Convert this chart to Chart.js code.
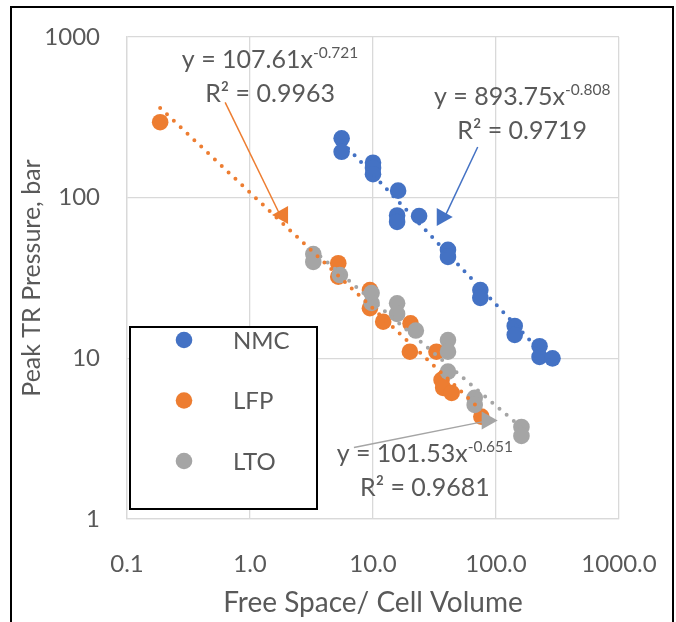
<!DOCTYPE html>
<html>
<head>
<meta charset="utf-8">
<script src="https://cdn.jsdelivr.net/npm/chart.js@4.4.1/dist/chart.umd.min.js"></script>
<style>
    html, body { margin: 0; padding: 0; background: #fff; }
    #wrap { width: 676px; height: 622px; }
</style>
</head>
<body>
<div id="wrap"><canvas id="myChart" width="676" height="622"></canvas></div>
<script>
// series
const seriesNames = ['NMC', 'LFP', 'LTO'];
const seriesColors = ['#4472C4', '#ED7D31', '#A5A5A5'];

// free space / cell volume  vs  peak TR pressure (bar)
const nmcX = [5.56, 5.56, 10.0, 10.0, 10.0, 16.0, 15.7, 15.7, 23.7, 40.7, 40.7, 74.6, 74.6, 142, 142, 226, 226, 288];
const nmcY = [234, 193, 165, 153, 140, 110.6, 77.5, 70.6, 76.9, 47.3, 42.8, 26.6, 23.8, 15.9, 14.0, 11.9, 10.2, 10.0];

const lfpX = [0.186, 5.22, 5.22, 9.44, 9.44, 12.1, 20.2, 19.95, 32.8, 36.1, 37.2, 43.6, 76.0];
const lfpY = [295, 39.1, 32.2, 26.6, 20.5, 16.9, 16.5, 11.0, 11.0, 7.34, 6.55, 6.09, 4.34];

const ltoX = [3.27, 3.27, 5.38, 9.74, 9.74, 15.7, 15.7, 22.3, 40.7, 40.7, 40.7, 67.1, 67.1, 161, 161];
const ltoY = [44.6, 39.8, 33.0, 25.5, 22.1, 22.0, 18.9, 14.9, 13.0, 11.0, 8.27, 5.67, 5.13, 3.74, 3.29];

// power-law trendlines printed on the chart: y = a * x^b
const fitA = [893.75, 107.61, 101.53];
const fitB = [-0.808, -0.721, -0.651];
const fitR2 = ['0.9719', '0.9963', '0.9681'];

// axes
const xTicks = [0.1, 1, 10, 100, 1000];
const xTickLabels = ['0.1', '1.0', '10.0', '100.0', '1000.0'];
const yTicks = [1, 10, 100, 1000];
const yTickLabels = ['1', '10', '100', '1000'];

const xs = [nmcX, lfpX, ltoX];
const ys = [nmcY, lfpY, ltoY];

const FONT = 'Lato, "Open Sans", sans-serif';
const TEXT = '#595959';
const GRID = '#d9d9d9';

// equation labels + arrows, placed in data coordinates
const notes = [
    { text: [163.2, 377.6], from: [71.0, 206.8], to: [38.3, 75.9], dir: 1 },
    { text: [1.456, 641], from: [0.628, 391.7], to: [1.755, 78.0], dir: -1 },
    { text: [26.4, 2.266], from: [7.0, 2.79], to: [88.9, 4.11], dir: 1 }
];

const datasets = [];

// trendlines, drawn on top of the markers (order 0)
seriesNames.forEach((name, i) => {
    const lo = Math.min(...xs[i]);
    const hi = Math.max(...xs[i]);
    datasets.push({
        label: name + ' fit',
        data: [
            { x: lo, y: fitA[i] * Math.pow(lo, fitB[i]) },
            { x: hi, y: fitA[i] * Math.pow(hi, fitB[i]) }
        ],
        showLine: true,
        borderColor: seriesColors[i],
        borderWidth: 4,
        borderDash: [0, 9.4],
        borderCapStyle: 'round',
        pointRadius: 0,
        fill: false,
        order: 0
    });
});

seriesNames.forEach((name, i) => {
    datasets.push({
        label: name,
        data: xs[i].map((x, k) => ({ x: x, y: ys[i][k] })),
        backgroundColor: seriesColors[i],
        borderColor: seriesColors[i],
        pointRadius: 8.3,
        pointBorderWidth: 0,
        showLine: false,
        order: 3 - i
    });
});

const overlay = {
    id: 'overlay',
    afterDraw(chart) {
        const { ctx, chartArea } = chart;
        const sx = chart.scales.x;
        const sy = chart.scales.y;
        ctx.save();

        // equation labels and arrows
        notes.forEach((n, i) => {
            const cx = sx.getPixelForValue(n.text[0]);
            const base = sy.getPixelForValue(n.text[1]);
            const main = 'y = ' + fitA[i].toFixed(2) + 'x';
            const sup = fitB[i].toFixed(3);
            ctx.fillStyle = TEXT;
            ctx.textBaseline = 'alphabetic';
            ctx.font = '25px ' + FONT;
            const wMain = ctx.measureText(main).width;
            ctx.font = '15.5px ' + FONT;
            const wSup = ctx.measureText(sup).width;
            const start = cx - (wMain + wSup) / 2;
            ctx.textAlign = 'left';
            ctx.font = '25px ' + FONT;
            ctx.fillText(main, start, base);
            ctx.font = '15.5px ' + FONT;
            ctx.fillText(sup, start + wMain, base - 10);
            ctx.font = '25px ' + FONT;
            ctx.textAlign = 'center';
            ctx.fillText('R\u00B2 = ' + fitR2[i], cx, base + 34);

            // arrow
            const x0 = sx.getPixelForValue(n.from[0]);
            const y0 = sy.getPixelForValue(n.from[1]);
            const x1 = sx.getPixelForValue(n.to[0]);
            const y1 = sy.getPixelForValue(n.to[1]);
            ctx.strokeStyle = seriesColors[i];
            ctx.lineWidth = 1.5;
            ctx.beginPath();
            ctx.moveTo(x0, y0);
            ctx.lineTo(x1, y1);
            ctx.stroke();
            ctx.fillStyle = seriesColors[i];
            ctx.beginPath();
            ctx.moveTo(x1 + n.dir * 8, y1);
            ctx.lineTo(x1 - n.dir * 8, y1 - 9);
            ctx.lineTo(x1 - n.dir * 8, y1 + 9);
            ctx.closePath();
            ctx.fill();
        });

        // legend box
        const lx = chartArea.left + 3;
        const ly = chartArea.top + 290;
        ctx.fillStyle = '#fff';
        ctx.fillRect(lx, ly, 187, 182);
        ctx.strokeStyle = '#000';
        ctx.lineWidth = 2;
        ctx.strokeRect(lx, ly, 187, 182);
        ctx.font = '24px ' + FONT;
        ctx.textAlign = 'left';
        ctx.textBaseline = 'middle';
        seriesNames.forEach((name, i) => {
            const my = ly + 13 + i * 60.5;
            ctx.fillStyle = seriesColors[i];
            ctx.beginPath();
            ctx.arc(lx + 54, my, 8.3, 0, Math.PI * 2);
            ctx.fill();
            ctx.fillStyle = TEXT;
            ctx.fillText(name, lx + 103, my + 1);
        });

        // outer frame
        ctx.strokeStyle = '#000';
        ctx.lineWidth = 2;
        ctx.strokeRect(11, 7, 662, 700);
        ctx.restore();
    }
};

const ctx = document.getElementById('myChart').getContext('2d');
const myChart = new Chart(ctx, {
    type: 'scatter',
    data: { datasets: datasets },
    options: {
        responsive: false,
        animation: false,
        devicePixelRatio: 1,
        layout: { padding: { left: 12, top: 37, right: 57, bottom: 0 } },
        plugins: {
            legend: { display: false },
            tooltip: { enabled: false }
        },
        scales: {
            x: {
                type: 'logarithmic',
                min: 0.1,
                max: 1000,
                afterBuildTicks: (s) => { s.ticks = xTicks.map(v => ({ value: v })); },
                afterFit: (s) => {
                    s.height = 103;
                    s.paddingLeft = 0;
                    s.paddingRight = 0;
                },
                ticks: {
                    callback: (v) => xTickLabels[xTicks.indexOf(v)],
                    color: TEXT,
                    font: { family: FONT, size: 24 },
                    padding: 31,
                    autoSkip: false,
                    maxRotation: 0
                },
                grid: { color: GRID, lineWidth: 1.3, drawTicks: false },
                border: { color: GRID, width: 1.3 },
                title: {
                    display: true,
                    text: 'Free Space/ Cell Volume',
                    color: TEXT,
                    font: { family: FONT, size: 28 },
                    padding: { top: 0, bottom: 2 }
                }
            },
            y: {
                type: 'logarithmic',
                min: 1,
                max: 1000,
                afterBuildTicks: (s) => { s.ticks = yTicks.map(v => ({ value: v })); },
                afterFit: (s) => {
                    s.width = 115;
                    s.paddingTop = 0;
                    s.paddingBottom = 0;
                },
                ticks: {
                    callback: (v) => yTickLabels[yTicks.indexOf(v)],
                    color: TEXT,
                    font: { family: FONT, size: 24 },
                    padding: 27,
                    autoSkip: false
                },
                grid: { color: GRID, lineWidth: 1.3, drawTicks: false },
                border: { color: GRID, width: 1.3 },
                title: {
                    display: true,
                    text: 'Peak TR Pressure, bar',
                    color: TEXT,
                    font: { family: FONT, size: 25 },
                    padding: { top: 5, bottom: 0 }
                }
            }
        }
    },
    plugins: [overlay]
});
</script>
</body>
</html>
